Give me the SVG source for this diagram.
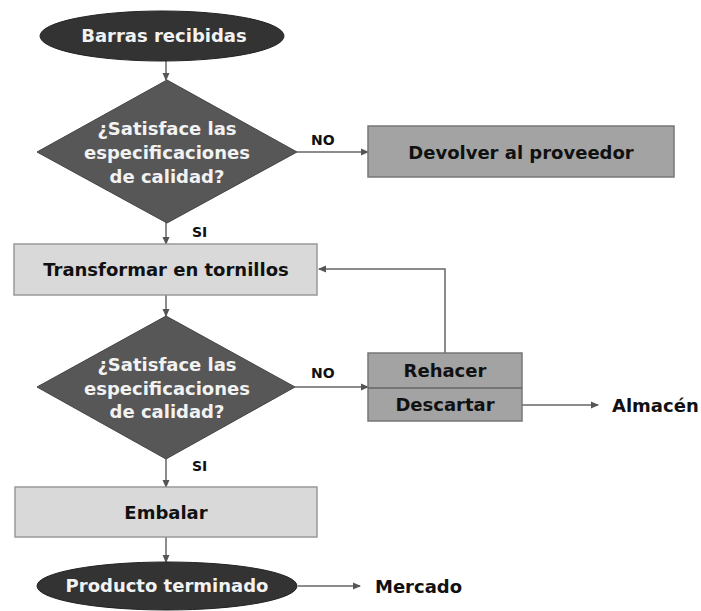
<svg xmlns="http://www.w3.org/2000/svg" width="701" height="611" viewBox="0 0 701 611">
<defs>
<marker id="ah" markerWidth="8" markerHeight="8" refX="7" refY="4" orient="auto" markerUnits="userSpaceOnUse">
<path d="M0,0.5 L8,4 L0,7.5 Z" fill="#555"/>
</marker>
<style>
text{font-family:"DejaVu Sans","Liberation Sans",sans-serif;font-weight:bold;font-size:18px;text-anchor:middle}
.w{fill:#f2f2f2}
.k{fill:#111}
.lbl{font-size:14px;fill:#111;text-anchor:start}
.out{font-size:18px;fill:#111;text-anchor:start}
.term{fill:#333;stroke:#222;stroke-width:1}
.dec{fill:#575757;stroke:#444;stroke-width:1}
.light{fill:#d9d9d9;stroke:#999;stroke-width:1.5}
.dark{fill:#a3a3a3;stroke:#777;stroke-width:1.5}
.c{stroke:#666;stroke-width:1.5;fill:none}
</style>
</defs>
<rect width="701" height="611" fill="#fff"/>
<g id="connectors">
<line class="c" x1="166" y1="61" x2="166" y2="80" marker-end="url(#ah)"/>
<line class="c" x1="297" y1="152" x2="368" y2="152" marker-end="url(#ah)"/>
<line class="c" x1="166" y1="222" x2="166" y2="244" marker-end="url(#ah)"/>
<line class="c" x1="166" y1="295" x2="166" y2="316" marker-end="url(#ah)"/>
<line class="c" x1="295" y1="387" x2="368" y2="387" marker-end="url(#ah)"/>
<polyline class="c" points="445,353 445,269 319,269" marker-end="url(#ah)"/>
<line class="c" x1="522" y1="405" x2="598" y2="405" marker-end="url(#ah)"/>
<line class="c" x1="166" y1="458" x2="166" y2="487" marker-end="url(#ah)"/>
<line class="c" x1="166" y1="537" x2="166" y2="562" marker-end="url(#ah)"/>
<line class="c" x1="298" y1="586" x2="360" y2="586" marker-end="url(#ah)"/>
<text class="lbl" x="311" y="145">NO</text>
<text class="lbl" x="192" y="237">SI</text>
<text class="lbl" x="311" y="378">NO</text>
<text class="lbl" x="192" y="471">SI</text>
</g>
<g id="start">
<ellipse class="term" cx="162" cy="36" rx="122" ry="25"/>
<text class="w" x="164" y="42">Barras recibidas</text>
</g>
<g id="decision1">
<polygon class="dec" points="167,80 297,152 167,223 37,152"/>
<text class="w" x="167" y="135">¿Satisface las</text>
<text class="w" x="167" y="159">especificaciones</text>
<text class="w" x="167" y="183">de calidad?</text>
</g>
<g id="devolver">
<rect class="dark" x="368" y="126" width="306" height="51"/>
<text class="k" x="521" y="159">Devolver al proveedor</text>
</g>
<g id="transformar">
<rect class="light" x="14" y="244" width="303" height="51"/>
<text class="k" x="166" y="276">Transformar en tornillos</text>
</g>
<g id="decision2">
<polygon class="dec" points="166,316 295,387 166,459 37,387"/>
<text class="w" x="167" y="371">¿Satisface las</text>
<text class="w" x="167" y="395">especificaciones</text>
<text class="w" x="167" y="418">de calidad?</text>
</g>
<g id="rehacer">
<rect class="dark" x="368" y="353" width="154" height="68"/>
<line x1="368" y1="388" x2="522" y2="388" stroke="#666" stroke-width="1.5"/>
<text class="k" x="445" y="377">Rehacer</text>
<text class="k" x="445" y="411">Descartar</text>
</g>
<g id="almacen">
<text class="out" x="612" y="412">Almacén</text>
</g>
<g id="embalar">
<rect class="light" x="15" y="487" width="302" height="50"/>
<text class="k" x="166" y="519">Embalar</text>
</g>
<g id="end">
<ellipse class="term" cx="167" cy="586" rx="130" ry="24"/>
<text class="w" x="167" y="592">Producto terminado</text>
</g>
<g id="mercado">
<text class="out" x="375" y="593">Mercado</text>
</g>
</svg>
